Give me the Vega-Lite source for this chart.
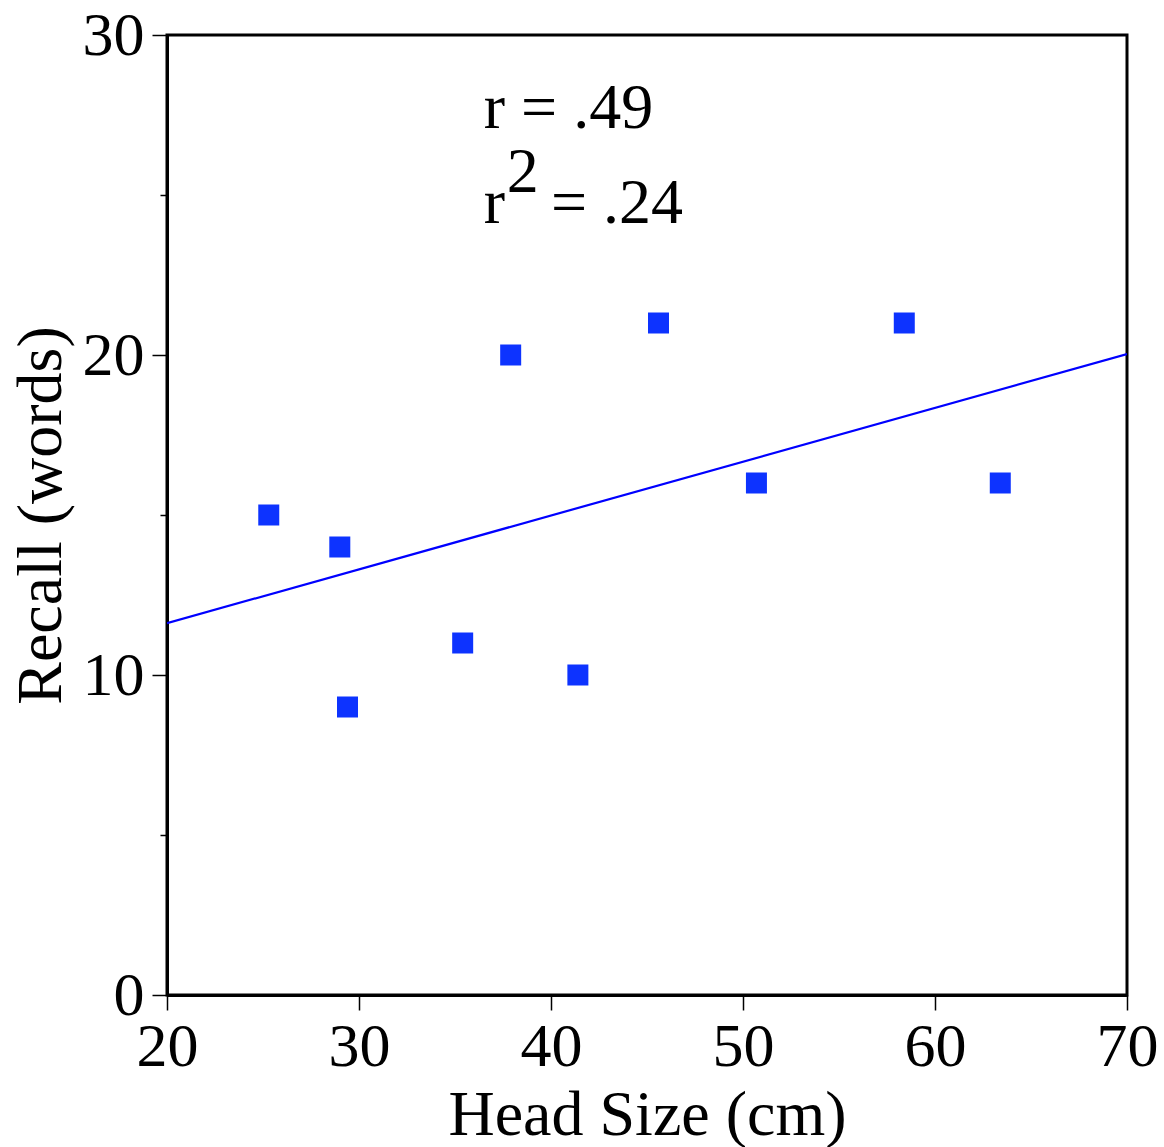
{
  "$schema": "https://vega.github.io/schema/vega-lite/v6.json",
  "width": 960,
  "height": 960,
  "autosize": "none",
  "padding": {"left": 167, "top": 35, "right": 37, "bottom": 152},
  "background": "white",
  "config": {
    "font": "Liberation Serif",
    "view": {"stroke": "black", "strokeWidth": 3},
    "axis": {
      "domainColor": "black", "domainWidth": 3, "tickColor": "black", "tickWidth": 1.5,
      "labelFont": "Liberation Serif", "labelFontSize": 62, "labelColor": "black", "labelFlush": false,
      "titleFont": "Liberation Serif", "titleFontSize": 64, "titleFontWeight": "normal", "titleColor": "black",
      "grid": false
    }
  },
  "datasets": {
    "points": [
      {"head": 25.3, "recall": 15},
      {"head": 29.0, "recall": 14},
      {"head": 29.4, "recall": 9},
      {"head": 35.4, "recall": 11},
      {"head": 37.9, "recall": 20},
      {"head": 41.4, "recall": 10},
      {"head": 45.6, "recall": 21},
      {"head": 50.7, "recall": 16},
      {"head": 58.4, "recall": 21},
      {"head": 63.4, "recall": 16}
    ],
    "fit": [
      {"head": 20, "recall": 11.62},
      {"head": 70, "recall": 20.03}
    ],
    "labels": [
      {"head": 36.5, "recall": 27.09, "label": "r = .49"},
      {"head": 36.5, "recall": 24.12, "label": "r"},
      {"head": 37.7, "recall": 25.09, "label": "2"},
      {"head": 40.0, "recall": 24.12, "label": "= .24"}
    ]
  },
  "layer": [
    {
      "data": {"name": "fit"},
      "mark": {"type": "line", "color": "#0000ff", "strokeWidth": 2.2, "clip": true},
      "encoding": {
        "x": {"field": "head", "type": "quantitative", "scale": {"domain": [20, 70], "nice": false},
          "axis": {"values": [20, 30, 40, 50, 60, 70], "tickSize": 15, "labelPadding": 6, "title": "Head Size (cm)", "titlePadding": 6}},
        "y": {"field": "recall", "type": "quantitative", "scale": {"domain": [0, 30], "nice": false},
          "axis": {"orient": "left", "values": [0, 10, 20, 30], "tickSize": 15, "labelPadding": 8, "title": "Recall (words)", "titlePadding": 9}}
      }
    },
    {
      "data": {"name": "points"},
      "mark": {"type": "square", "color": "#0d33ff", "opacity": 1, "size": 441},
      "encoding": {
        "x": {"field": "head", "type": "quantitative"},
        "y": {"field": "recall", "type": "quantitative",
          "axis": {"orient": "left", "values": [5, 15, 25], "tickSize": 7, "labels": false, "domain": false, "title": null}}
      }
    },
    {
      "data": {"name": "labels"},
      "mark": {"type": "text", "align": "left", "baseline": "alphabetic", "fontSize": 64, "color": "black", "font": "Liberation Serif"},
      "encoding": {
        "x": {"field": "head", "type": "quantitative"},
        "y": {"field": "recall", "type": "quantitative", "axis": null},
        "text": {"field": "label"}
      }
    }
  ],
  "resolve": {"axis": {"y": "independent"}}
}
